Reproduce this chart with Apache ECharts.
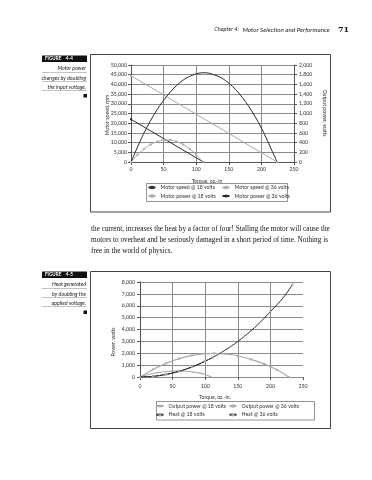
<!DOCTYPE html>
<html><head><meta charset="utf-8">
<script src="https://cdn.jsdelivr.net/npm/echarts@6/dist/echarts.min.js"></script>
<style>html,body{margin:0;padding:0;background:#fff}#c{width:372px;height:480px}</style>
</head><body><div id="c"></div>
<script>
// ---------- Figure 4-4 data ----------
const torqueTicks = ['0','50','100','150','200','250'];
const speedTickLabels = ['0','5,000','10,000','15,000','20,000','25,000','30,000','35,000','40,000','45,000','50,000'];
const powerTickLabels = ['0','200','400','600','800','1,000','1,200','1,400','1,600','1,800','2,000'];
const speed18Torque = [0, 111];
const speed18Rpm = [22000, 0];
const speed36Torque = [0, 224];
const speed36Rpm = [44500, 0];
const power18Torque = [0,10,20,30,40,50,60,70,80,90,100,111];
const power18Watts = [0,150,270,360,420,452,452,420,360,270,150,0];
const power36Torque = [0,20,40,60,80,100,112,120,140,160,180,200,224];
const power36Watts = [0,600,1080,1440,1690,1820,1840,1830,1725,1500,1160,700,0];

// ---------- Figure 4-5 data ----------
const heatTickLabels = ['0','1,000','2,000','3,000','4,000','5,000','6,000','7,000','8,000'];
const outP18Torque = [0,10,20,30,40,50,60,70,80,90,100,110];
const outP18Watts = [0,165,295,395,460,500,505,485,430,340,210,0];
const outP36Torque = [0,20,40,60,80,100,114,130,150,170,190,210,228];
const outP36Watts = [0,635,1150,1550,1820,1970,1990,1950,1790,1480,1110,610,0];
const heat18Torque = [0,20,40,60,80,100,111];
const heat18Watts = [0,55,215,480,850,1330,1640];
const heat36Torque = [0,20,40,60,80,100,120,140,160,180,200,220,234];
const heat36Watts = [0,55,215,480,850,1330,1910,2600,3420,4380,5500,6700,7800];

const pairs = (xs, ys) => xs.map((x, i) => [x, ys[i]]);

const FONT = 'Lato';
const DARK = '#2a2a2a';
const GRAY = '#ababab';
const GRID = '#8a8a8a';
const LBL = {fontFamily: FONT, fontSize: 5.2, color: '#333'};

function xAx(grid, labelMargin) {
  return {
    type: 'value', gridIndex: grid, min: 0, max: 250, interval: 50,
    axisLine: {show: grid === 0, lineStyle: {color: '#555', width: 1}},
    axisTick: {show: true, length: 3, lineStyle: {color: '#555'}},
    axisLabel: Object.assign({margin: labelMargin, formatter: v => torqueTicks[Math.round(v / 50)]}, LBL),
    splitLine: {show: true, showMinLine: false, showMaxLine: false, lineStyle: {color: GRID, width: 1}}
  };
}

function legendCol(names, left, top, gap) {
  return {data: names, orient: 'vertical', left: left, top: top, itemGap: gap, itemWidth: 7, itemHeight: 4,
          textStyle: Object.assign({lineHeight: 6}, LBL), padding: 0};
}

const option = {
  backgroundColor: '#fff',
  animation: false,
  textStyle: {fontFamily: FONT},
  grid: [
    {left: 131, top: 65, width: 163, height: 97},
    {left: 140, top: 282, width: 163, height: 95}
  ],
  xAxis: [xAx(0, 5), xAx(1, 7)],
  yAxis: [
    {type: 'value', gridIndex: 0, min: 0, max: 50000, interval: 5000, position: 'left',
     axisLine: {show: true, lineStyle: {color: '#555'}},
     axisTick: {show: true, length: 3, lineStyle: {color: '#555'}},
     axisLabel: Object.assign({margin: 4, formatter: v => speedTickLabels[Math.round(v / 5000)]}, LBL),
     splitLine: {show: true, lineStyle: {color: GRID, width: 1}}},
    {type: 'value', gridIndex: 0, min: 0, max: 2000, interval: 200, position: 'right',
     axisLine: {show: true, lineStyle: {color: '#555'}},
     axisTick: {show: true, length: 3, lineStyle: {color: '#555'}},
     axisLabel: Object.assign({margin: 5, formatter: v => powerTickLabels[Math.round(v / 200)]}, LBL),
     splitLine: {show: false}},
    {type: 'value', gridIndex: 1, min: 0, max: 8000, interval: 1000, position: 'left',
     axisLine: {show: true, lineStyle: {color: '#555'}},
     axisTick: {show: true, length: 3, lineStyle: {color: '#555'}},
     axisLabel: Object.assign({margin: 5, formatter: v => heatTickLabels[Math.round(v / 1000)]}, LBL),
     splitLine: {show: true, lineStyle: {color: GRID, width: 1}}}
  ],
  legend: [
    legendCol(['Motor speed @ 18 volts', 'Motor power @ 18 volts'], 147.5, 184.5, 2.5),
    legendCol(['Motor speed @ 36 volts', 'Motor power @ 36 volts'], 221.5, 184.5, 2.5),
    legendCol(['Output power @ 18 volts', 'Heat @ 18 volts'], 155.5, 403, 2.7),
    legendCol(['Output power @ 36 volts', 'Heat @ 36 volts'], 228.5, 403, 2.7)
  ],
  series: [
    {name: 'Motor speed @ 18 volts', type: 'line', xAxisIndex: 0, yAxisIndex: 0, data: pairs(speed18Torque, speed18Rpm),
     symbol: 'rect', symbolSize: 2, lineStyle: {color: DARK, width: 1}, itemStyle: {color: DARK}},
    {name: 'Motor speed @ 36 volts', type: 'line', xAxisIndex: 0, yAxisIndex: 0, data: pairs(speed36Torque, speed36Rpm),
     symbol: 'rect', symbolSize: 2, lineStyle: {color: GRAY, width: 1}, itemStyle: {color: GRAY}},
    {name: 'Motor power @ 18 volts', type: 'line', xAxisIndex: 0, yAxisIndex: 1, data: pairs(power18Torque, power18Watts), smooth: 0.3,
     symbol: 'rect', symbolSize: 2, lineStyle: {color: GRAY, width: 1}, itemStyle: {color: GRAY}},
    {name: 'Motor power @ 36 volts', type: 'line', xAxisIndex: 0, yAxisIndex: 1, data: pairs(power36Torque, power36Watts), smooth: 0.3,
     symbol: 'none', lineStyle: {color: DARK, width: 1}, itemStyle: {color: DARK}},

    {name: 'Output power @ 18 volts', type: 'line', xAxisIndex: 1, yAxisIndex: 2, data: pairs(outP18Torque, outP18Watts), smooth: 0.3,
     symbol: 'none', lineStyle: {color: GRAY, width: 1.2}, itemStyle: {color: GRAY}},
    {name: 'Output power @ 36 volts', type: 'line', xAxisIndex: 1, yAxisIndex: 2, data: pairs(outP36Torque, outP36Watts), smooth: 0.3,
     symbol: 'rect', symbolSize: 2, lineStyle: {color: GRAY, width: 1.2}, itemStyle: {color: GRAY}},
    {name: 'Heat @ 18 volts', type: 'line', xAxisIndex: 1, yAxisIndex: 2, data: pairs(heat18Torque, heat18Watts), smooth: 0.3,
     symbol: 'rect', symbolSize: 2, lineStyle: {color: DARK, width: 1, type: [3, 1]}, itemStyle: {color: '#999'}},
    {name: 'Heat @ 36 volts', type: 'line', xAxisIndex: 1, yAxisIndex: 2, data: pairs(heat36Torque, heat36Watts), smooth: 0.3,
     symbol: 'rect', symbolSize: 2, lineStyle: {color: DARK, width: 1}, itemStyle: {color: '#aaa'}}
  ],
  graphic: [
    // running head
    {type: 'text', x: 239, y: 29.5, style: {text: 'Chapter 4:', font: 'italic 5.6px Lato', fill: '#222', textAlign: 'right', textVerticalAlign: 'middle'}},
    {type: 'text', x: 242.5, y: 29.5, style: {text: 'Motor Selection and Performance', font: 'italic 6.3px Lato', fill: '#222', textVerticalAlign: 'middle'}},
    {type: 'text', x: 338, y: 29.5, style: {text: '71', font: 'bold 8px "DejaVu Serif"', fill: '#111', textVerticalAlign: 'middle'}},

    // Figure 4-4 caption
    {type: 'rect', shape: {x: 42, y: 55.5, width: 45, height: 6.5}, style: {fill: '#111'}},
    {type: 'text', x: 45, y: 58.9, style: {text: 'FIGURE    4-4', font: 'bold 4.6px Lato', fill: '#fff', textVerticalAlign: 'middle'}},
    {type: 'text', x: 86, y: 68.5, style: {text: 'Motor power', font: 'italic 5.3px Lato', fill: '#222', textAlign: 'right', textVerticalAlign: 'middle'}},
    {type: 'line', shape: {x1: 42, y1: 72.5, x2: 87, y2: 72.5}, style: {stroke: '#999', lineWidth: 0.6}},
    {type: 'text', x: 86, y: 78, style: {text: 'changes by doubling', font: 'italic 5.3px Lato', fill: '#222', textAlign: 'right', textVerticalAlign: 'middle'}},
    {type: 'line', shape: {x1: 42, y1: 81.5, x2: 87, y2: 81.5}, style: {stroke: '#999', lineWidth: 0.6}},
    {type: 'text', x: 86, y: 87, style: {text: 'the input voltage.', font: 'italic 5.3px Lato', fill: '#222', textAlign: 'right', textVerticalAlign: 'middle'}},
    {type: 'line', shape: {x1: 42, y1: 90.5, x2: 87, y2: 90.5}, style: {stroke: '#999', lineWidth: 0.6}},
    {type: 'rect', shape: {x: 83.5, y: 94, width: 3.5, height: 3.5}, style: {fill: '#111'}},

    // Figure 4-4 frame
    {type: 'rect', shape: {x: 90.5, y: 54.5, width: 240, height: 157.5}, style: {fill: 'none', stroke: '#444', lineWidth: 1}},
    {type: 'text', x: 107, y: 115, rotation: Math.PI / 2, style: {text: 'Motor speed, rpm', font: '5.2px Lato', fill: '#333', textAlign: 'center', textVerticalAlign: 'middle'}},
    {type: 'text', x: 325, y: 113, rotation: -Math.PI / 2, style: {text: 'Output power, watts', font: '5.2px Lato', fill: '#333', textAlign: 'center', textVerticalAlign: 'middle'}},
    {type: 'text', x: 207, y: 181, style: {text: 'Torque, oz.-in', font: '5.2px Lato', fill: '#333', textAlign: 'center', textVerticalAlign: 'middle'}},
    {type: 'rect', shape: {x: 146.5, y: 183.5, width: 141, height: 18}, style: {fill: 'none', stroke: '#777', lineWidth: 0.8}},

    // body text
    {type: 'text', left: 91, top: 225.5, style: {text: 'the current, increases the heat by a factor of four! Stalling the motor will cause the', font: '7.25px "Liberation Serif"', fill: '#111'}},
    {type: 'text', left: 91, top: 236.5, style: {text: 'motors to overheat and be seriously damaged in a short period of time. Nothing is', font: '7.25px "Liberation Serif"', fill: '#111'}},
    {type: 'text', left: 91, top: 247.5, style: {text: 'free in the world of physics.', font: '7.25px "Liberation Serif"', fill: '#111'}},

    // Figure 4-5 caption
    {type: 'rect', shape: {x: 42, y: 271.5, width: 45, height: 6.5}, style: {fill: '#111'}},
    {type: 'text', x: 45, y: 274.9, style: {text: 'FIGURE    4-5', font: 'bold 4.6px Lato', fill: '#fff', textVerticalAlign: 'middle'}},
    {type: 'text', x: 86, y: 284.5, style: {text: 'Heat generated', font: 'italic 5.3px Lato', fill: '#222', textAlign: 'right', textVerticalAlign: 'middle'}},
    {type: 'line', shape: {x1: 42, y1: 288.5, x2: 87, y2: 288.5}, style: {stroke: '#999', lineWidth: 0.6}},
    {type: 'text', x: 86, y: 294, style: {text: 'by doubling the', font: 'italic 5.3px Lato', fill: '#222', textAlign: 'right', textVerticalAlign: 'middle'}},
    {type: 'line', shape: {x1: 42, y1: 297.5, x2: 87, y2: 297.5}, style: {stroke: '#999', lineWidth: 0.6}},
    {type: 'text', x: 86, y: 303, style: {text: 'applied voltage.', font: 'italic 5.3px Lato', fill: '#222', textAlign: 'right', textVerticalAlign: 'middle'}},
    {type: 'line', shape: {x1: 42, y1: 306.5, x2: 87, y2: 306.5}, style: {stroke: '#999', lineWidth: 0.6}},
    {type: 'rect', shape: {x: 83.5, y: 310.5, width: 3.5, height: 3.5}, style: {fill: '#111'}},

    // Figure 4-5 frame
    {type: 'rect', shape: {x: 90.5, y: 271.5, width: 240, height: 157}, style: {fill: 'none', stroke: '#444', lineWidth: 1}},
    {type: 'text', x: 113, y: 342, rotation: Math.PI / 2, style: {text: 'Power, watts', font: '5.2px Lato', fill: '#333', textAlign: 'center', textVerticalAlign: 'middle'}},
    {type: 'text', x: 215, y: 397, style: {text: 'Torque, oz.-in.', font: '5.2px Lato', fill: '#333', textAlign: 'center', textVerticalAlign: 'middle'}},
    {type: 'rect', shape: {x: 156.5, y: 401.5, width: 158, height: 18.5}, style: {fill: 'none', stroke: '#777', lineWidth: 0.8}}
  ]
};

const chart = echarts.init(document.getElementById('c'), null, {renderer: 'canvas'});
chart.setOption(option);
</script></body></html>
